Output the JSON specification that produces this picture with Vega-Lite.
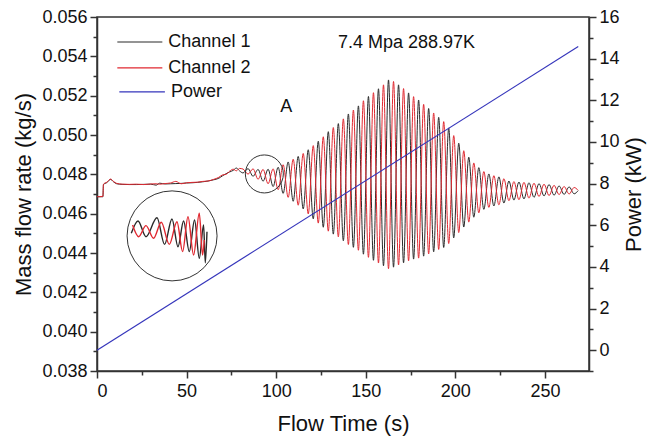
{
"$schema": "https://vega.github.io/schema/vega-lite/v6.json",
"width": 492, "height": 354,
"autosize": {"type": "none"},
"padding": {"left": 97, "top": 17, "right": 58, "bottom": 66},
"background": "white",
"config": {
  "font": "Liberation Sans",
  "view": {"stroke": "#333", "strokeWidth": 1.5},
  "axis": {"domainColor": "#333", "domainWidth": 1.5, "tickColor": "#333", "tickWidth": 1.5, "labelColor": "#111", "titleColor": "#111", "labelFontSize": 18, "titleFontSize": 22, "titleFontWeight": "normal", "grid": false, "labelFont": "Liberation Sans", "titleFont": "Liberation Sans", "labelOverlap": false, "labelBound": false},
  "text": {"font": "Liberation Sans", "fontSize": 18, "color": "#111"}
},
"datasets": {
"flow": [
{"t":0,"Channel 1":0.04686,"Channel 2":0.04686},
{"t":3.3,"Channel 1":0.04686,"Channel 2":0.04688},
{"t":3.6,"Channel 1":0.04748,"Channel 2":0.0475},
{"t":5.5,"Channel 1":0.04758,"Channel 2":0.0476},
{"t":7.6,"Channel 1":0.04774,"Channel 2":0.04776},
{"t":9.2,"Channel 1":0.04762,"Channel 2":0.04764},
{"t":11,"Channel 1":0.04752,"Channel 2":0.04754},
{"t":14,"Channel 1":0.04749,"Channel 2":0.0475},
{"t":18,"Channel 1":0.04748,"Channel 2":0.04749},
{"t":22,"Channel 1":0.04748,"Channel 2":0.0475},
{"t":26,"Channel 1":0.04749,"Channel 2":0.04748},
{"t":30,"Channel 1":0.0475,"Channel 2":0.04751},
{"t":33,"Channel 1":0.04745,"Channel 2":0.04752},
{"t":35,"Channel 1":0.04755,"Channel 2":0.0475},
{"t":38,"Channel 1":0.04751,"Channel 2":0.04753},
{"t":41,"Channel 1":0.04752,"Channel 2":0.04756},
{"t":44,"Channel 1":0.04753,"Channel 2":0.04764},
{"t":47,"Channel 1":0.04754,"Channel 2":0.04752},
{"t":50,"Channel 1":0.04756,"Channel 2":0.04757},
{"t":53,"Channel 1":0.04757,"Channel 2":0.04759},
{"t":56,"Channel 1":0.04759,"Channel 2":0.0476},
{"t":59,"Channel 1":0.04762,"Channel 2":0.04764},
{"t":62,"Channel 1":0.04766,"Channel 2":0.04766},
{"t":65,"Channel 1":0.04772,"Channel 2":0.04774},
{"t":68,"Channel 1":0.0478,"Channel 2":0.04785},
{"t":70,"Channel 1":0.04792,"Channel 2":0.04797},
{"t":72,"Channel 1":0.04803,"Channel 2":0.048},
{"t":74,"Channel 1":0.04812,"Channel 2":0.04816},
{"t":76,"Channel 1":0.0482,"Channel 2":0.04826},
{"t":77.8,"Channel 1":0.04832,"Channel 2":0.04818},
{"t":79.5,"Channel 1":0.04818,"Channel 2":0.0483},
{"t":81.5,"Channel 1":0.04807,"Channel 2":0.04827},
{"t":84.3,"Channel 1":0.04829,"Channel 2":0.04801},
{"t":87.1,"Channel 1":0.0479,"Channel 2":0.04828},
{"t":89.9,"Channel 1":0.04825,"Channel 2":0.04775},
{"t":92.7,"Channel 1":0.04765,"Channel 2":0.04825},
{"t":95.5,"Channel 1":0.04826,"Channel 2":0.04752},
{"t":98.3,"Channel 1":0.04738,"Channel 2":0.04828},
{"t":101.1,"Channel 1":0.04836,"Channel 2":0.04722},
{"t":103.9,"Channel 1":0.04703,"Channel 2":0.04849},
{"t":106.7,"Channel 1":0.04863,"Channel 2":0.04683},
{"t":109.5,"Channel 1":0.04663,"Channel 2":0.04877},
{"t":112.3,"Channel 1":0.04891,"Channel 2":0.04643},
{"t":115.1,"Channel 1":0.04624,"Channel 2":0.04906},
{"t":117.9,"Channel 1":0.04925,"Channel 2":0.04599},
{"t":120.7,"Channel 1":0.04574,"Channel 2":0.04946},
{"t":123.5,"Channel 1":0.04968,"Channel 2":0.04552},
{"t":126.3,"Channel 1":0.04531,"Channel 2":0.04991},
{"t":129.1,"Channel 1":0.05017,"Channel 2":0.04511},
{"t":131.9,"Channel 1":0.04496,"Channel 2":0.05038},
{"t":134.7,"Channel 1":0.05058,"Channel 2":0.04482},
{"t":137.5,"Channel 1":0.04462,"Channel 2":0.05082},
{"t":140.3,"Channel 1":0.05107,"Channel 2":0.04443},
{"t":143.1,"Channel 1":0.04429,"Channel 2":0.05127},
{"t":145.9,"Channel 1":0.05148,"Channel 2":0.04414},
{"t":148.7,"Channel 1":0.04394,"Channel 2":0.05174},
{"t":151.5,"Channel 1":0.05196,"Channel 2":0.04378},
{"t":154.3,"Channel 1":0.04363,"Channel 2":0.05215},
{"t":157.1,"Channel 1":0.05235,"Channel 2":0.04349},
{"t":159.9,"Channel 1":0.04335,"Channel 2":0.05255},
{"t":162.7,"Channel 1":0.0528,"Channel 2":0.0432},
{"t":165.5,"Channel 1":0.04328,"Channel 2":0.05272},
{"t":168.3,"Channel 1":0.05255,"Channel 2":0.04339},
{"t":171.1,"Channel 1":0.0435,"Channel 2":0.05236},
{"t":173.9,"Channel 1":0.05214,"Channel 2":0.0436},
{"t":176.7,"Channel 1":0.04369,"Channel 2":0.05195},
{"t":179.5,"Channel 1":0.05178,"Channel 2":0.04374},
{"t":182.3,"Channel 1":0.04384,"Channel 2":0.05156},
{"t":185.1,"Channel 1":0.05135,"Channel 2":0.04395},
{"t":187.9,"Channel 1":0.04406,"Channel 2":0.05112},
{"t":190.7,"Channel 1":0.0509,"Channel 2":0.04418},
{"t":193.5,"Channel 1":0.04428,"Channel 2":0.05068},
{"t":196.3,"Channel 1":0.05036,"Channel 2":0.04448},
{"t":199.1,"Channel 1":0.04477,"Channel 2":0.04997},
{"t":201.9,"Channel 1":0.04958,"Channel 2":0.04504},
{"t":204.7,"Channel 1":0.04532,"Channel 2":0.0492},
{"t":207.5,"Channel 1":0.04887,"Channel 2":0.04557},
{"t":210.3,"Channel 1":0.04582,"Channel 2":0.04858},
{"t":213.1,"Channel 1":0.04834,"Channel 2":0.04604},
{"t":215.9,"Channel 1":0.04622,"Channel 2":0.04814},
{"t":218.7,"Channel 1":0.04802,"Channel 2":0.04632},
{"t":221.5,"Channel 1":0.04639,"Channel 2":0.04793},
{"t":224.3,"Channel 1":0.04787,"Channel 2":0.04645},
{"t":227.1,"Channel 1":0.04654,"Channel 2":0.04778},
{"t":229.9,"Channel 1":0.04766,"Channel 2":0.04666},
{"t":232.7,"Channel 1":0.04669,"Channel 2":0.04763},
{"t":235.5,"Channel 1":0.04761,"Channel 2":0.04671},
{"t":238.3,"Channel 1":0.04675,"Channel 2":0.04759},
{"t":241.1,"Channel 1":0.04757,"Channel 2":0.04679},
{"t":243.9,"Channel 1":0.04683,"Channel 2":0.04755},
{"t":246.7,"Channel 1":0.04753,"Channel 2":0.04687},
{"t":249.5,"Channel 1":0.0469,"Channel 2":0.0475},
{"t":252.3,"Channel 1":0.04748,"Channel 2":0.04692},
{"t":255.1,"Channel 1":0.04694,"Channel 2":0.04744},
{"t":257.9,"Channel 1":0.04741,"Channel 2":0.04697},
{"t":260.7,"Channel 1":0.04698,"Channel 2":0.04738},
{"t":263.5,"Channel 1":0.04736,"Channel 2":0.047},
{"t":266.3,"Channel 1":0.04701,"Channel 2":0.04733},
{"t":268.5,"Channel 1":0.04717,"Channel 2":0.04719}
],
"in1": [
{"t":19.14,"flow":0.045},
{"t":22.88,"flow":0.04563},
{"t":27.34,"flow":0.04483},
{"t":33.48,"flow":0.04579},
{"t":37.72,"flow":0.04444},
{"t":41.85,"flow":0.04573},
{"t":45.2,"flow":0.04432},
{"t":48.33,"flow":0.04563},
{"t":51.51,"flow":0.04407},
{"t":54.46,"flow":0.04568},
{"t":57.09,"flow":0.04373},
{"t":59.49,"flow":0.04542},
{"t":60.44,"flow":0.0435},
{"t":61.38,"flow":0.04508}
],
"in2": [
{"t":19.87,"flow":0.04542},
{"t":23.21,"flow":0.04483},
{"t":27.34,"flow":0.04539},
{"t":31.58,"flow":0.04475},
{"t":35.88,"flow":0.04556},
{"t":40.35,"flow":0.04444},
{"t":44.64,"flow":0.04559},
{"t":47.77,"flow":0.04407},
{"t":50.78,"flow":0.04584},
{"t":53.91,"flow":0.0439},
{"t":57.09,"flow":0.04602},
{"t":58.93,"flow":0.0439},
{"t":59.88,"flow":0.04466}
],
"power": [
{"t":0,"power":0,"series":"Power"},
{"t":268.6,"power":14.58,"series":"Power"}
],
"legend": [
{"series":"Channel 1","t":36.47,"t2":11.34,"flow":0.05473},
{"series":"Channel 2","t":36.47,"t2":11.34,"flow":0.05341},
{"series":"Power","t":37.9,"t2":12.46,"flow":0.05219}
],
"ringA": [{"t":93.4,"flow":0.04802}],
"ringInset": [{"t":41.9,"flow":0.04487}],
"note": [{"t":172.7,"flow":0.0547,"label":"7.4 Mpa 288.97K"}],
"markA": [{"t":105.6,"flow":0.0514,"label":"A"}]
},
"encoding": {
  "x": {"field": "t", "type": "quantitative", "scale": {"domain": [0, 274.6], "nice": false, "zero": false},
    "axis": {"title": "Flow Time (s)", "values": [0,25,50,75,100,125,150,175,200,225,250], "format": "d",
      "labelExpr": "datum.value % 50 == 0 ? datum.label : ''", "labelOverlap": false,
      "tickSize": {"condition": {"test": "datum.value % 50 != 0", "value": 4}, "value": 7},
      "labelPadding": 4, "titlePadding": 13}}
},
"layer": [
 {"encoding": {
    "y": {"field": "flow", "type": "quantitative", "scale": {"domain": [0.038, 0.056], "nice": false, "zero": false},
      "axis": {"title": "Mass flow rate (kg/s)", "format": ".3f", "labelOverlap": false,
        "values": [0.038,0.039,0.040,0.041,0.042,0.043,0.044,0.045,0.046,0.047,0.048,0.049,0.050,0.051,0.052,0.053,0.054,0.055,0.056],
        "labelExpr": "round(datum.value*1000) % 2 == 0 ? datum.label : ''",
        "tickSize": {"condition": {"test": "round(datum.value*1000) % 2 != 0", "value": 4}, "value": 7},
        "labelPadding": 3, "titlePadding": 6}}
  },
  "layer": [
  {"data": {"name": "flow"},
   "transform": [{"fold": ["Channel 1", "Channel 2"], "as": ["series", "flow"]}],
   "mark": {"type": "line", "interpolate": "monotone", "strokeWidth": 1},
   "encoding": {
     "color": {"field": "series", "type": "nominal",
       "scale": {"domain": ["Channel 1", "Channel 2", "Power"], "range": ["#2a2a2a", "#e02830", "#3535bb"]},
       "legend": null}
   }},
  {"data": {"name": "in1"},
   "mark": {"type": "line", "interpolate": "monotone", "color": "#2a2a2a", "strokeWidth": 1.4}},
  {"data": {"name": "in2"},
   "mark": {"type": "line", "interpolate": "monotone", "color": "#e02830", "strokeWidth": 1.4}},
  {"data": {"name": "ringA"},
   "mark": {"type": "point", "shape": "circle", "filled": false, "color": "#333", "strokeWidth": 1, "size": 1444, "opacity": 1}},
  {"data": {"name": "ringInset"},
   "mark": {"type": "point", "shape": "circle", "filled": false, "color": "#333", "strokeWidth": 1, "size": 8100, "opacity": 1}},
  {"data": {"name": "note"},
   "mark": {"type": "text"},
   "encoding": {"text": {"field": "label"}}},
  {"data": {"name": "markA"},
   "mark": {"type": "text"},
   "encoding": {"text": {"field": "label"}}},
  {"data": {"name": "legend"},
   "mark": {"type": "rule", "strokeWidth": 1.2},
   "encoding": {"x2": {"field": "t2"},
     "color": {"field": "series", "type": "nominal", "legend": null}}},
  {"data": {"name": "legend"},
   "mark": {"type": "text", "align": "left", "baseline": "middle", "dx": 6},
   "encoding": {"text": {"field": "series"}}}
 ]},
 {"data": {"name": "power"},
  "mark": {"type": "line", "strokeWidth": 1.2},
  "encoding": {
    "y": {"field": "power", "type": "quantitative", "scale": {"domain": [-1, 16], "nice": false, "zero": false},
      "axis": {"orient": "right", "title": "Power (kW)", "titleAngle": 270, "titleBaseline": "top", "labelOverlap": false,
        "values": [-1,0,1,2,3,4,5,6,7,8,9,10,11,12,13,14,15,16],
        "labelExpr": "datum.value % 2 == 0 ? datum.label : ''",
        "tickSize": {"condition": {"test": "datum.value % 2 != 0", "value": 4}, "value": 7},
        "labelPadding": 3, "titlePadding": 4}},
    "color": {"field": "series", "type": "nominal", "legend": null}
  }}
],
"resolve": {"scale": {"y": "independent"}}
}
